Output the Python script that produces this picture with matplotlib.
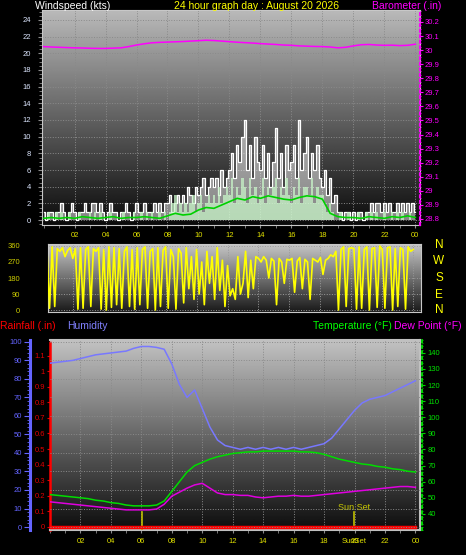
import numpy as np
import matplotlib.pyplot as plt
from matplotlib.ticker import MultipleLocator, FixedLocator

plt.rcParams['font.family'] = ['Liberation Sans', 'DejaVu Sans']

# wind gust / speed, 10 minute samples (kts)
gust = [
    1, 0, 1, 1, 0, 1,
    1, 2, 1, 0, 1, 2,
    1, 0, 1, 1, 2, 1,
    1, 2, 2, 1, 2, 1,
    0, 1, 2, 1, 1, 0,
    1, 1, 2, 1, 0, 1,
    2, 1, 1, 2, 1, 1,
    1, 2, 1, 2, 1, 2,
    2, 3, 1, 2, 3, 2,
    3, 2, 4, 3, 2, 4,
    3, 4, 5, 3, 4, 5,
    4, 5, 3, 6, 4, 5,
    6, 8, 5, 9, 7, 10,
    12, 6, 9, 5, 10, 7,
    6, 9, 5, 8, 4, 7,
    11, 5, 8, 4, 9, 6,
    7, 9, 5, 12, 6, 8,
    10, 5, 8, 6, 9, 5,
    4, 6, 3, 5, 2, 3,
    1, 1, 0, 1, 1, 0,
    1, 0, 1, 1, 0, 1,
    1, 2, 1, 2, 2, 1,
    2, 1, 2, 1, 1, 2,
    1, 2, 1, 2, 1, 2,
    1]
wind = [
    0, 0, 1, 0, 0, 1,
    0, 1, 0, 0, 1, 0,
    0, 0, 1, 0, 0, 0,
    1, 0, 1, 0, 1, 0,
    0, 0, 1, 0, 0, 0,
    0, 1, 0, 0, 0, 1,
    0, 0, 1, 0, 1, 0,
    1, 0, 0, 1, 0, 1,
    0, 1, 2, 3, 1, 2,
    1, 2, 1, 2, 3, 1,
    2, 3, 1, 2, 3, 2,
    3, 2, 4, 2, 3, 4,
    3, 5, 2, 4, 3, 5,
    4, 2, 5, 3, 4, 2,
    3, 5, 2, 4, 3, 4,
    5, 2, 4, 3, 5, 3,
    2, 4, 3, 5, 2, 4,
    4, 3, 5, 2, 4, 3,
    3, 2, 1, 2, 1, 0,
    0, 1, 0, 0, 1, 0,
    0, 0, 1, 0, 0, 1,
    0, 1, 0, 1, 0, 0,
    1, 0, 0, 1, 0, 1,
    0, 1, 0, 0, 1, 0,
    0]
# wind direction, 10 minute samples (deg)
wind_dir = [
    350, 5, 340, 10, 355, 20,
    345, 330, 350, 300, 335, 350,
    290, 345, 5, 350, 10, 340,
    355, 20, 345, 330, 350, 5,
    340, 0, 355, 15, 350, 30,
    345, 10, 330, 355, 20, 340,
    5, 350, 30, 340, 355, 10,
    330, 345, 0, 350, 20, 335,
    355, 10, 340, 300, 5, 345,
    320, 40, 350, 120, 300, 60,
    340, 90, 270, 30, 330, 150,
    300, 60, 350, 110, 280, 20,
    250, 80, 120, 60, 300, 90,
    150, 330, 70, 280, 120, 300,
    290, 270, 300, 280, 180, 290,
    275, 30, 290, 270, 150, 285,
    280, 290, 100, 275, 295, 120,
    285, 270, 60, 290, 280, 270,
    295, 200, 280, 290, 310, 300,
    330, 0, 340, 355, 20, 345,
    350, 345, 5, 355, 10, 340,
    355, 0, 345, 350, 15, 360,
    340, 10, 350, 355, 0, 345,
    20, 350, 340, 5, 355, 330,
    340]

# half hourly samples
wind_avg = [0.2, 0.3, 0.2, 0.3, 0.2, 0.4, 0.3, 0.2, 0.3, 0.4, 0.2, 0.3, 0.3, 0.4, 0.3, 0.2,
            0.5, 0.8, 0.6, 0.7, 1.2, 1.5, 1.4, 1.8, 2.2, 2.6, 2.4, 2.8, 2.6, 2.9, 2.7, 2.5,
            2.4, 2.7, 2.9, 2.8, 2.5, 0.8, 0.4, 0.3, 0.3, 0.2, 0.4, 0.3, 0.2, 0.4, 0.3, 0.5, 0.3]
baro = [30.025, 30.022, 30.02, 30.018, 30.016, 30.015, 30.013, 30.012, 30.012, 30.014,
        30.016, 30.025, 30.036, 30.045, 30.052, 30.055, 30.057, 30.059, 30.061, 30.064,
        30.067, 30.07, 30.068, 30.064, 30.06, 30.056, 30.053, 30.05, 30.046, 30.043,
        30.04, 30.036, 30.034, 30.03, 30.028, 30.026, 30.025, 30.022, 30.016, 30.02,
        30.03, 30.038, 30.04, 30.036, 30.034, 30.035, 30.032, 30.034, 30.042]
humidity = [88.5, 89, 89.5, 90, 91, 92, 93, 93.5, 94, 94.5, 95, 96.5, 97.5, 97.5, 97, 96,
            88, 77, 70, 74, 64, 54, 47, 44, 43, 42, 43, 42, 43, 42, 43, 42,
            43, 42, 43, 44, 45, 48, 53, 58, 63, 67, 69, 70, 71, 73, 75, 77, 79]
temp = [52, 51.5, 51, 50.5, 50, 49.5, 48.5, 48, 47, 46.5, 45.5, 45, 45, 45, 45.5, 48,
        54, 60, 66, 70, 72, 74, 75.5, 76.5, 77.5, 78, 78.5, 78.5, 79, 79, 79, 79,
        79, 78.5, 78.5, 78, 77, 75.5, 74, 73, 72, 71, 70.5, 69.5, 69, 68, 67.5, 66.5, 66]
dewpt = [47.5, 47, 46.5, 46, 45.5, 45, 44.5, 44, 43.5, 43, 42.5, 42.5, 42.5, 42.5, 43, 46,
         51, 53.5, 56, 58, 59, 56, 53, 52, 52, 51.5, 51.5, 50.5, 50, 50.5, 51, 51,
         51.5, 51, 51, 51.5, 52, 52.5, 53, 53.5, 54, 54.5, 55, 55.5, 56, 56.5, 57, 57, 56.5]
rain = [0.0, 0.0, 0.0, 0.0, 0.0, 0.0, 0.0, 0.0, 0.0, 0.0, 0.0, 0.0, 0.0,
        0.0, 0.0, 0.0, 0.0, 0.0, 0.0, 0.0, 0.0, 0.0, 0.0, 0.0, 0.0]
sunrise = 6.05
sunset = 19.95

hour_ticks = list(range(2, 25, 2))
hour_labels = ['%02d' % (h % 24) for h in hour_ticks]

t10 = np.arange(len(gust)) / 6.0
t30 = np.arange(len(baro)) / 2.0
t60 = np.arange(len(rain))

W, H = 466, 555
fig = plt.figure(figsize=(W / 100, H / 100), dpi=100, facecolor='black')


def box(x0, y0, x1, y1):
    return [x0 / W, 1 - y1 / H, (x1 - x0) / W, (y1 - y0) / H]


def shade(ax, top, bottom):
    g = np.linspace(bottom, top, 256).reshape(-1, 1)
    x0, x1 = ax.get_xlim()
    y0, y1 = ax.get_ylim()
    ax.imshow(g, cmap='gray', vmin=0, vmax=1, aspect='auto', origin='lower',
              extent=[x0, x1, y0, y1], zorder=0)
    ax.set_xlim(x0, x1)
    ax.set_ylim(y0, y1)


TS = 5.5
YEL = '#e0e000'

# ---------------- wind speed / barometer
ax1 = fig.add_axes(box(42, 10, 420, 225))
ax1.set_xlim(-0.1, 24.3)
ax1.set_ylim(-0.6, 25.2)
shade(ax1, 0.73, 0.04)
ax1.fill_between(t10, gust, step='mid', color='white', alpha=0.5, lw=0, zorder=2)
ax1.plot(t10, gust, color='white', lw=0.9, drawstyle='steps-mid', zorder=3)
ax1.fill_between(t10, wind, step='mid', color='#c8f5c8', alpha=0.75, lw=0, zorder=4)
ax1.plot(t30, wind_avg, color='#00d000', lw=1.2, zorder=5)
ax1.set_yticks(range(0, 25, 2))
ax1.yaxis.set_minor_locator(MultipleLocator(0.5))
ax1.set_xticks(hour_ticks)
ax1.set_xticklabels(hour_labels)
ax1.xaxis.set_minor_locator(MultipleLocator(1))
ax1.tick_params(axis='y', which='both', colors='#8c8c8c', labelcolor='#dce6ff',
                labelsize=TS, pad=5)
ax1.tick_params(axis='y', which='major', length=3)
ax1.tick_params(axis='y', which='minor', length=2)
ax1.tick_params(axis='x', which='both', colors='#8c8c8c', labelcolor=YEL,
                labelsize=TS, length=2, pad=2.7)
ax1.grid(True, color='#8a8a8a', ls=':', lw=0.7)
for s in ax1.spines.values():
    s.set_color('#c8c8c8')

ax1b = ax1.twinx()
ax1b.set_ylim(28.757, 30.285)
ax1b.plot(t30, baro, color='#ff00ff', lw=1.1)
bt = np.round(np.arange(28.8, 30.25, 0.1), 1)
ax1b.yaxis.set_major_locator(FixedLocator(bt))
ax1b.set_yticklabels(['%g' % v for v in bt])
ax1b.yaxis.set_minor_locator(MultipleLocator(0.025))
ax1b.tick_params(axis='y', which='both', colors='#ff00ff', labelcolor='#ff00ff',
                 labelsize=TS, pad=1.6)
ax1b.tick_params(axis='y', which='major', length=2)
ax1b.tick_params(axis='y', which='minor', length=1)
ax1b.spines['right'].set_color('#ff00ff')
ax1b.spines['right'].set_linestyle(':')
ax1b.spines['right'].set_linewidth(1.5)
for k in ['left', 'top', 'bottom']:
    ax1b.spines[k].set_visible(False)

# ---------------- wind direction
ax2 = fig.add_axes(box(48, 244, 421, 312))
ax2.set_xlim(0.4, 24.5)
ax2.set_ylim(-11, 371)
shade(ax2, 0.78, 0.1)
ax2.plot(t10, wind_dir, color='#ffff00', lw=1.2, zorder=3)
ax2.set_yticks([0, 90, 180, 270, 360])
ax2.set_xticks(hour_ticks)
ax2.tick_params(axis='x', length=0, labelbottom=False)
ax2.tick_params(axis='y', length=0, labelcolor='#cccc00', labelsize=TS, pad=20)
ax2.grid(True, color='#9a9a9a', ls=':', lw=0.7)
for s in ax2.spines.values():
    s.set_color('#c8c8c8')
for lab, yp in zip(['N', 'W', 'S', 'E', 'N'], [245, 261, 278, 295, 310]):
    fig.text(439 / W, 1 - yp / H, lab, color='#ffff00', fontsize=8.5,
             ha='center', va='center')

# ---------------- rain / humidity / temperature
ax3 = fig.add_axes(box(50, 340, 420, 530))
ax3.set_xlim(0, 24.3)
ax3.set_ylim(-0.02, 1.2)
shade(ax3, 0.76, 0.05)
ax3.set_xticks(hour_ticks)
ax3.set_xticklabels(hour_labels)
ax3.xaxis.set_minor_locator(MultipleLocator(1))
ax3.tick_params(axis='x', which='both', colors='#8c8c8c', labelcolor=YEL,
                labelsize=TS, length=2, pad=3.8)
rt = np.round(np.arange(0, 1.15, 0.1), 1)
ax3.set_yticks(rt)
ax3.set_yticklabels(['%g' % v for v in rt])
ax3.tick_params(axis='y', colors='#e00000', labelcolor='#e00000', labelsize=TS,
                length=2, pad=1.6)
for k in ['top', 'bottom', 'right']:
    ax3.spines[k].set_color('#c0c0c0')
    ax3.spines[k].set_linewidth(1.5)
ax3.spines['left'].set_color('#ff0000')
ax3.spines['left'].set_linestyle((0, (1, 1)))
ax3.spines['left'].set_linewidth(1.8)
ax3.xaxis.grid(True, color='#8a8a8a', ls=':', lw=0.7)
ax3.plot(t60, rain, color='#ff0000', lw=2.5, zorder=6)

axh = ax3.twinx()
axh.set_ylim(-1.6, 101)
axh.yaxis.set_ticks_position('left')
axh.spines['left'].set_visible(True)
axh.spines['left'].set_position(('outward', 14.4))
axh.spines['left'].set_color('#6464ff')
axh.spines['left'].set_linewidth(2.2)
for k in ['top', 'bottom', 'right']:
    axh.spines[k].set_visible(False)
axh.set_yticks(range(0, 101, 10))
axh.yaxis.set_minor_locator(MultipleLocator(2))
axh.tick_params(axis='y', which='both', colors='#6464ff', labelcolor='#6464ff',
                labelsize=TS, pad=1.8)
axh.tick_params(axis='y', which='major', length=4)
axh.tick_params(axis='y', which='minor', length=2)
axh.yaxis.grid(True, color='#8a8a8a', ls=':', lw=0.7)
axh.plot(t30, humidity, color='#7878ff', lw=1.1)

axt = ax3.twinx()
axt.set_ylim(30, 148)
axt.spines['right'].set_position(('outward', 1.4))
axt.spines['right'].set_color('#00d000')
axt.spines['right'].set_linestyle(':')
axt.spines['right'].set_linewidth(1.5)
for k in ['top', 'bottom', 'left']:
    axt.spines[k].set_visible(False)
axt.set_yticks(range(40, 141, 10))
axt.yaxis.set_minor_locator(MultipleLocator(2))
axt.tick_params(axis='y', which='both', colors='#00d000', labelcolor='#00e000',
                labelsize=TS, pad=1.8)
axt.tick_params(axis='y', which='major', length=2.5)
axt.tick_params(axis='y', which='minor', length=1)
axt.plot(t30, temp, color='#00dd00', lw=1.1)
axt.plot(t30, dewpt, color='#e000e0', lw=1.1)

for tt in [sunrise, sunset]:
    ax3.axvline(tt, ymin=0, ymax=0.095, color='#c0c000', lw=1.2, zorder=5)
ax3.text(sunset, 0.121, 'Sun Set', transform=ax3.get_xaxis_transform(),
         color='#c8c800', fontsize=6.5, ha='center', va='center', zorder=6)
ax3.text(sunset, -0.063, 'SunSet', transform=ax3.get_xaxis_transform(),
         color=YEL, fontsize=TS, ha='center', va='center', clip_on=False)

# ---------------- titles
fig.text(35 / W, 1 - 6 / H, 'Windspeed (kts)', color='white', fontsize=7.5, va='center')
fig.text(257 / W, 1 - 6 / H, '24 hour graph day : August 20 2026', color='#ffff00',
         fontsize=7.5, ha='center', va='center')
fig.text(372 / W, 1 - 6 / H, 'Barometer (.in)', color='#ff00ff', fontsize=7.5, va='center')
fig.text(0, 1 - 326 / H, 'Rainfall (.in)', color='#ff0000', fontsize=7.5, va='center')
fig.text(67 / W, 1 - 326 / H, 'Humidity', color='#8080ff', fontsize=7.5, va='center')
fig.text(313 / W, 1 - 326 / H, 'Temperature (°F)', color='#00ff00', fontsize=7.5, va='center')
fig.text(394 / W, 1 - 326 / H, 'Dew Point (°F)', color='#ff00ff', fontsize=7.5, va='center')

fig.savefig('out.png', dpi=100, facecolor='black')
